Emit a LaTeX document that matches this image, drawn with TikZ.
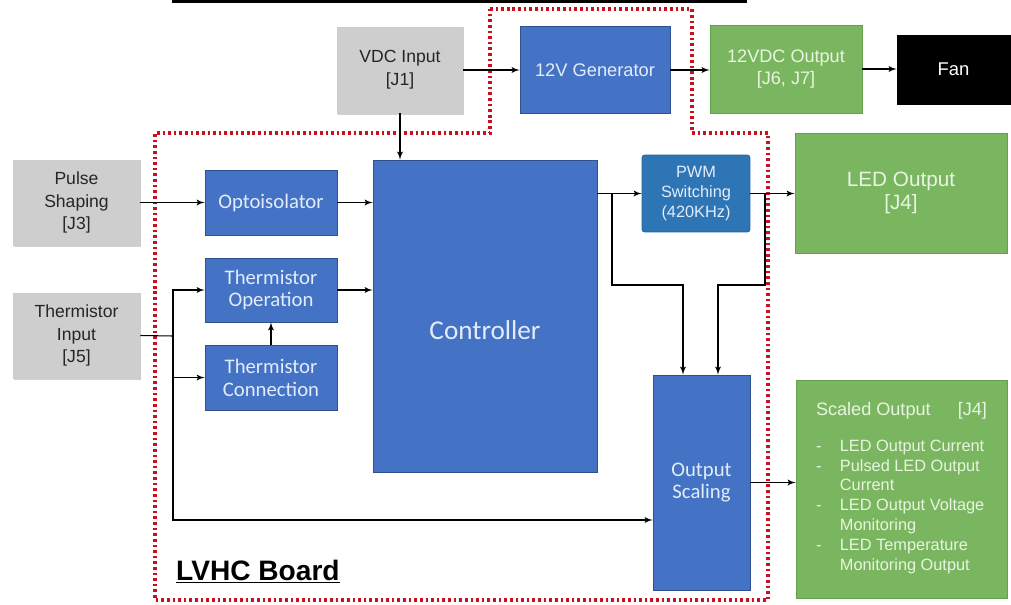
\documentclass[tikz,border=0pt]{standalone}
\usepackage{fontspec}
\setmainfont{Liberation Sans}
\newfontfamily\calibfont{Carlito}
\usepackage{tikz}
\definecolor{boxgray}{RGB}{206,206,206}
\definecolor{blockblue}{RGB}{68,114,196}
\definecolor{blueedge}{RGB}{47,82,143}
\definecolor{pwmblue}{RGB}{46,117,182}
\definecolor{outgreen}{RGB}{122,182,96}
\definecolor{greenedge}{RGB}{100,160,78}
\definecolor{lighttext}{RGB}{226,236,250}
\definecolor{greentext}{RGB}{232,245,224}
\definecolor{boardred}{RGB}{200,16,30}
\usetikzlibrary{arrows, positioning, shapes, shadows}
\tikzstyle{input} = [draw=gray!40, fill=boxgray, rectangle, align=center, inner sep=0pt, text=black!85, font=\fontsize{10}{13}\selectfont, drop shadow={shadow xshift=0.6pt, shadow yshift=-0.9pt, opacity=0.35}]
\tikzstyle{block} = [draw=blueedge, fill=blockblue, rectangle, align=center, inner sep=0pt, text=lighttext, font=\calibfont\fontsize{11.8}{13}\selectfont]
\tikzstyle{output} = [draw=greenedge, fill=outgreen, rectangle, align=center, inner sep=0pt, text=greentext, font=\fontsize{10.3}{13}\selectfont]
\tikzstyle{arrow} = [arrows=->, black, line width=0.6pt]
\tikzstyle{board} = [boardred, line width=1.8pt, dash pattern=on 1.5pt off 1.7pt]

\begin{document}
\begin{tikzpicture}[auto, >=latex', x=0.02cm, y=-0.02cm]
    \useasboundingbox (0,0) rectangle (1011,605);

    % Title rule and board outline
    \draw [line width=1.8pt] (172,1.5) -- (747,1.5);
    \draw [board] (490,9) -- (692,9) -- (692,133) -- (768,133) -- (768,600)
        -- (155,600) -- (155,133) -- (490,133) -- cycle;

    % Place the blocks
    \node [input, minimum width=2.52cm, minimum height=1.72cm] (vdc) at (400,70) {VDC Input\\{[J1]}};
    \node [block, minimum width=3cm, minimum height=1.74cm, font=\fontsize{10.4}{13}\selectfont] (gen) at (595,70) {12V Generator};
    \node [output, minimum width=3.04cm, minimum height=1.76cm] (dcout) at (786,69) {12VDC Output\\{[J6, J7]}};
    \node [fill=black, draw=black, text=white, inner sep=0pt, minimum width=2.26cm, minimum height=1.38cm, font=\fontsize{10.5}{13}\selectfont] (fan) at (953.5,69.5) {Fan};

    \node [input, minimum width=2.54cm, minimum height=1.7cm] (pulse) at (76.5,202.5) {Pulse\\Shaping\\{[J3]}};
    \node [input, minimum width=2.54cm, minimum height=1.7cm] (therm) at (76.5,335.5) {Thermistor\\Input\\{[J5]}};

    \node [block, minimum width=2.64cm, minimum height=1.3cm] (opto) at (271,202.5) {Optoisolator};
    \node [block, minimum width=2.64cm, minimum height=1.28cm] (thop) at (271,290) {Thermistor\\Operation};
    \node [block, minimum width=2.64cm, minimum height=1.3cm] (thcon) at (271,377.5) {Thermistor\\Connection};

    \node [block, minimum width=4.48cm, minimum height=6.24cm, text height=0.96cm, text depth=0cm, font=\calibfont\fontsize{15.5}{18}\selectfont] (ctrl) at (485,316) {Controller};

    \node [block, fill=pwmblue, draw=pwmblue!85!black, rounded corners=1.5pt, minimum width=2.16cm, minimum height=1.54cm, font=\fontsize{9.3}{11.3}\selectfont] (pwm) at (696,193.5) {PWM\\Switching\\(420KHz)};
    \node [block, minimum width=1.94cm, minimum height=4.3cm] (scale) at (701.5,482.5) {Output\\Scaling};

    \node [output, minimum width=4.24cm, minimum height=2.4cm, font=\fontsize{11.8}{13}\selectfont] (led) at (901,193) {LED Output\\{[J4]}};
    \node [output, minimum width=4.22cm, minimum height=4.36cm, font=\fontsize{9.3}{11.3}\selectfont] (scaled) at (901.5,489) {%
        \begin{tabular}{@{}l@{\hspace{10.5pt}}l@{}}
        \multicolumn{2}{@{}l@{}}{\fontsize{10.3}{12}\selectfont Scaled Output\hspace{1.5em}[J4]}\\[9pt]
        - & LED Output Current\\
        - & Pulsed LED Output\\
          & Current\\
        - & LED Output Voltage\\
          & Monitoring\\
        - & LED Temperature\\
          & Monitoring Output
        \end{tabular}};

    \node [anchor=base west, font=\bfseries\fontsize{16}{18}\selectfont] (lvhc) at (170,580) {\underline{LVHC Board}};

    % Junction points
    \coordinate (tj) at (173,336);
    \coordinate (tlow) at (173,520);
    \coordinate (cj) at (612,193.5);
    \coordinate (cmid) at (683,285);
    \coordinate (pj) at (765,193.5);
    \coordinate (pmid) at (718,285);

    % Connect the nodes
    \draw [arrow] (vdc) -- (gen);
    \draw [arrow] (gen.east) -- (gen.east -| dcout.west);
    \draw [arrow] (dcout.east) -- (dcout.east -| fan.west);
    \draw [arrow] (vdc.south) -- (vdc.south |- ctrl.north);
    \draw [arrow] (pulse) -- (opto);
    \draw [arrow] (opto.east) -- (opto.east -| ctrl.west);
    \draw [arrow] (thop.east) -- (thop.east -| ctrl.west);
    \draw [arrow] (thcon) -- (thop);
    \draw [line width=0.6pt] (therm.east) -- (tj);
    \draw [arrow] (tj) |- (thop.west);
    \draw [arrow] (tj) |- (thcon.west);
    \draw [arrow] (tj) -- (tlow) -- (tlow -| scale.west);
    \draw [arrow] (ctrl.east |- pwm.west) -- (pwm.west);
    \draw [arrow] (cj) |- (cmid) -- (cmid |- scale.north);
    \draw [arrow] (pwm.east) -- (pwm.east -| led.west);
    \draw [arrow] (pj) |- (pmid) -- (pmid |- scale.north);
    \draw [arrow] (scale.east) -- (scale.east -| scaled.west);
\end{tikzpicture}
\end{document}
